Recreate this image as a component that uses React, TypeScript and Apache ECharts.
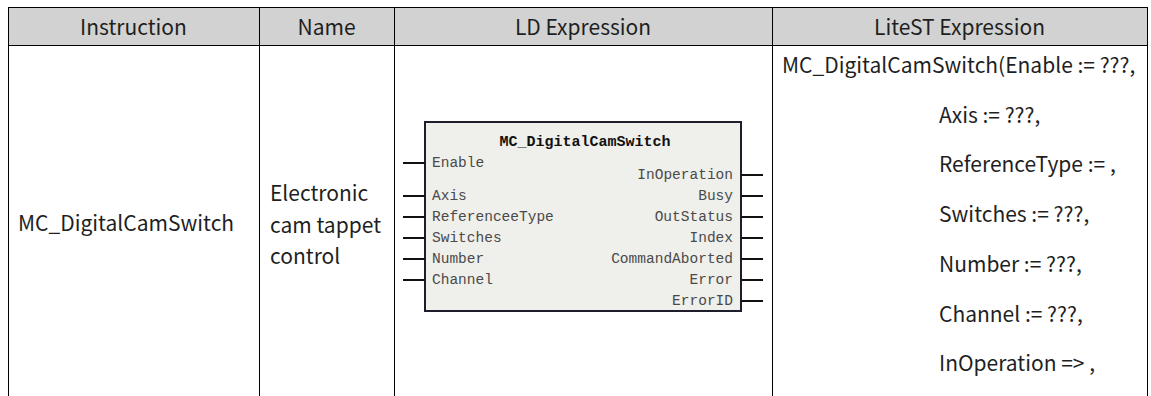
import React, { useEffect, useRef } from "react";
import * as echarts from "echarts";

const headers: string[] = ["Instruction", "Name", "LD Expression", "LiteST Expression"];
const instructionName = "MC_DigitalCamSwitch";
const nameLines: string[] = ["Electronic", "cam tappet", "control"];
const blockTitle = "MC_DigitalCamSwitch";
const blockInputs: string[] = ["Enable", "Axis", "ReferenceeType", "Switches", "Number", "Channel"];
const blockOutputs: string[] = ["InOperation", "Busy", "OutStatus", "Index", "CommandAborted", "Error", "ErrorID"];
const liteSTLines: string[] = [
  "MC_DigitalCamSwitch(Enable := ???,",
  "Axis := ???,",
  "ReferenceType := ,",
  "Switches := ???,",
  "Number := ???,",
  "Channel := ???,",
  "InOperation => ,",
];

const W = 1151;
const H = 396;
const COLS = [8, 259, 394, 772, 1147];
const TOP = 7;
const HEAD_B = 45.5;
const FONT = "'Noto Sans CJK SC', 'Noto Sans', sans-serif";
const MONO = "'Liberation Mono', 'DejaVu Sans Mono', monospace";
const TXT = "#1f1f1f";
const FS = 21;

function txt(text: string, x: number, y: number, opts: any = {}) {
  const align = opts.align || "left";
  return {
    type: "text",
    silent: true,
    style: {
      text,
      x,
      y,
      fontSize: opts.size || FS,
      fontFamily: opts.family || FONT,
      fontWeight: opts.weight || "normal",
      fill: opts.fill || TXT,
      align,
      textAlign: align,
      verticalAlign: "middle",
      textVerticalAlign: "middle",
    },
  };
}

function line(x1: number, y1: number, x2: number, y2: number, w = 1, c = "#000") {
  return {
    type: "line",
    silent: true,
    shape: { x1, y1, x2, y2 },
    style: { stroke: c, lineWidth: w },
  };
}

export default function App() {
  const ref = useRef<HTMLDivElement>(null);
  useEffect(() => {
    document.body.style.margin = "0";
    const chart = echarts.init(ref.current!, undefined, { renderer: "svg" });
    const els: any[] = [];
    // header background
    els.push({
      type: "rect",
      silent: true,
      shape: { x: COLS[0], y: TOP, width: COLS[4] - COLS[0], height: HEAD_B - TOP },
      style: { fill: "#d2d2d2" },
    });
    // grid lines
    els.push(line(COLS[0], TOP + 0.5, COLS[4] + 1, TOP + 0.5));
    els.push(line(COLS[0], HEAD_B, COLS[4] + 1, HEAD_B));
    COLS.forEach((x) => els.push(line(x + 0.5, TOP, x + 0.5, H)));
    // headers
    headers.forEach((h, i) => {
      els.push(txt(h, (COLS[i] + COLS[i + 1]) / 2, 26, { align: "center" }));
    });
    // instruction
    els.push(txt(instructionName, 18, 222));
    // name
    nameLines.forEach((s, i) => els.push(txt(s, 270, 192 + i * 31.5)));
    // LD block
    const bx = 425, by = 122, bw = 316, bh = 189;
    els.push({
      type: "rect",
      silent: true,
      shape: { x: bx, y: by, width: bw, height: bh },
      style: { fill: "#efefeb", stroke: "#1d1d2c", lineWidth: 2 },
    });
    els.push(txt(blockTitle, bx + bw / 2 + 2, 142, { align: "center", size: 15, family: MONO, weight: "bold", fill: "#111" }));
    blockInputs.forEach((s, i) => {
      const y = i === 0 ? 163 : 196 + (i - 1) * 21;
      els.push(line(403, y, bx, y, 2, "#111"));
      els.push(txt(s, bx + 7, y, { size: 14.5, family: MONO, fill: "#4a4a4a" }));
    });
    blockOutputs.forEach((s, i) => {
      const y = 175 + i * 21;
      els.push(line(bx + bw, y, 763, y, 2, "#111"));
      els.push(txt(s, bx + bw - 8, y, { align: "right", size: 14.5, family: MONO, fill: "#4a4a4a" }));
    });
    // LiteST
    liteSTLines.forEach((s, i) => {
      els.push(txt(s, i === 0 ? 782 : 939, 64 + i * 49.7));
    });
    chart.setOption({ animation: false, graphic: { elements: els } });
    return () => chart.dispose();
  }, []);
  return <div ref={ref} style={{ width: W, height: H, background: "#fff" }} />;
}
